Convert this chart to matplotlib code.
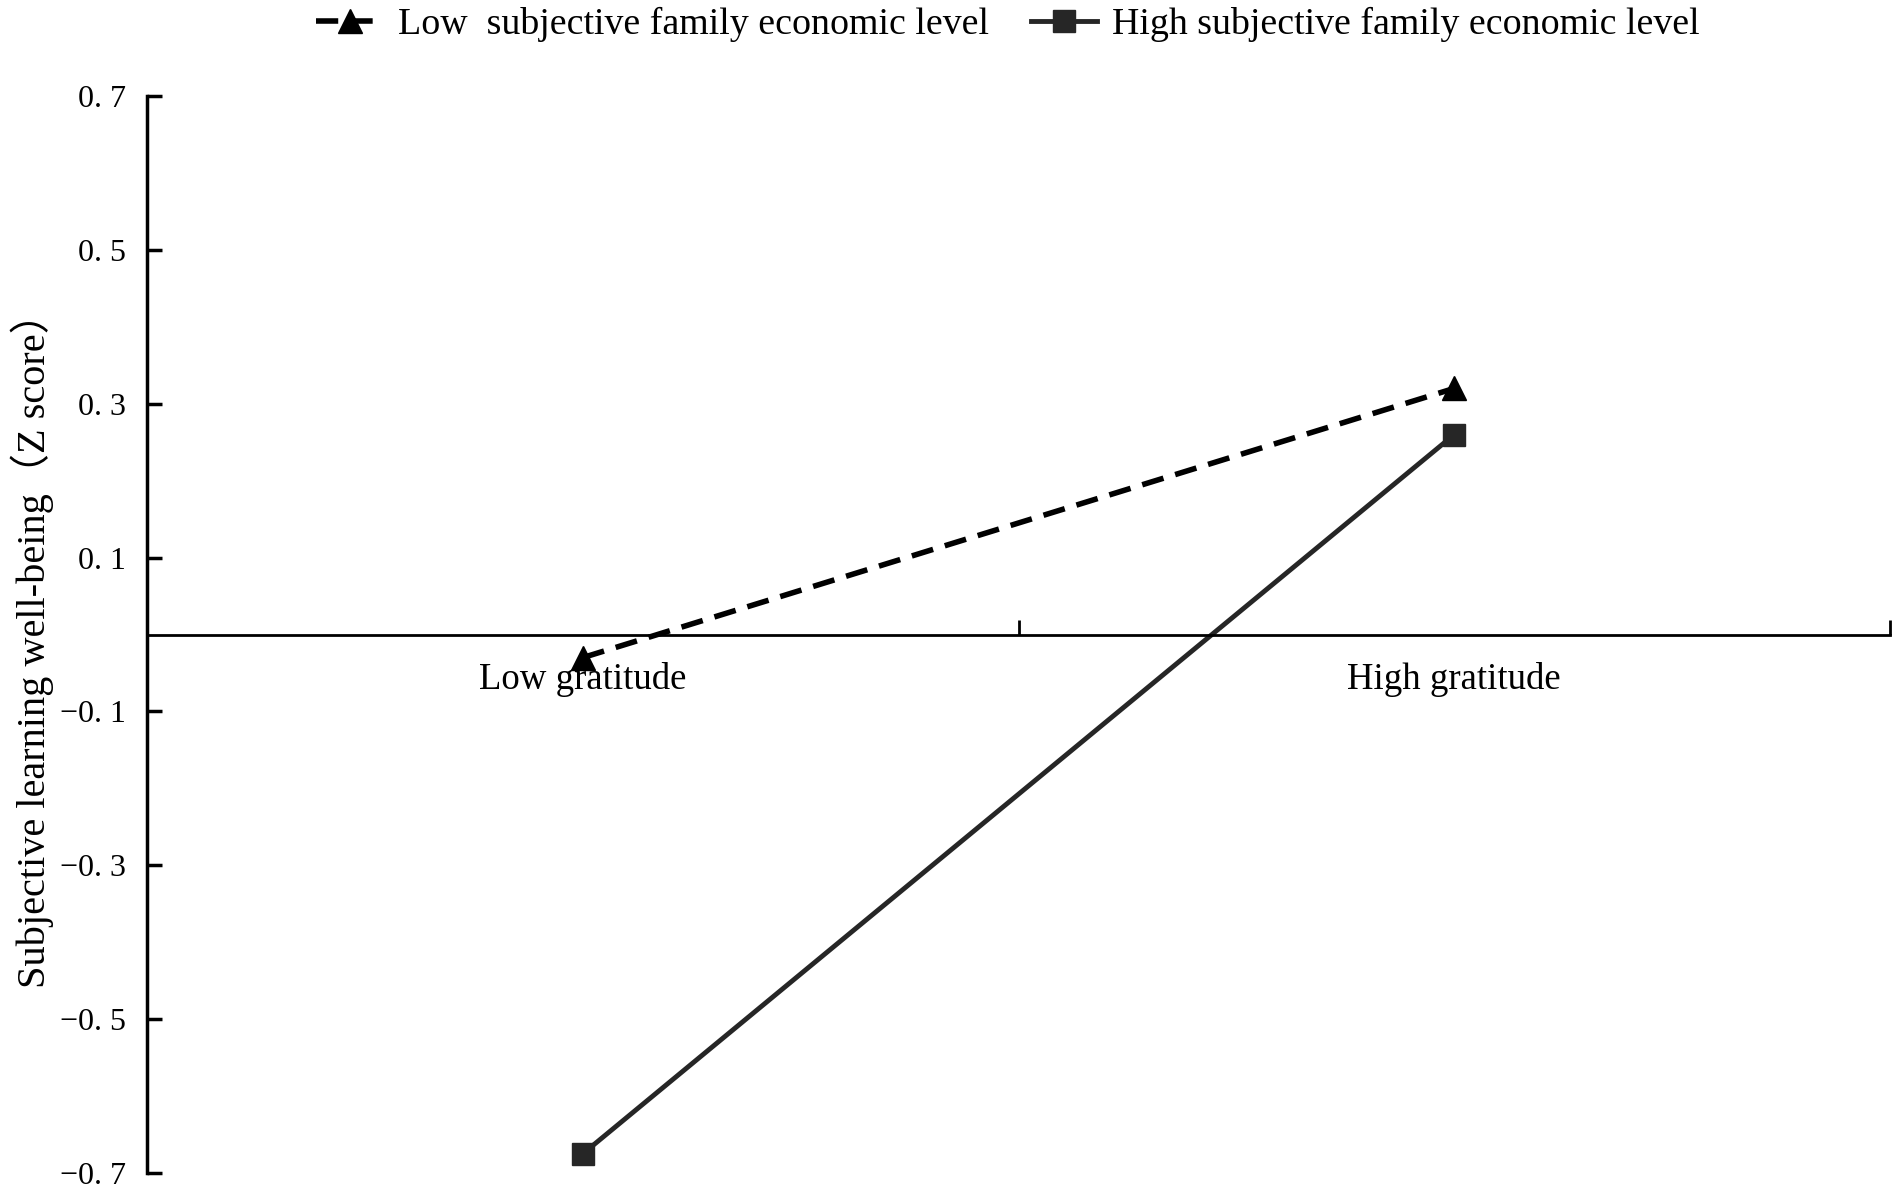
import matplotlib.pyplot as plt
from matplotlib.ticker import FixedLocator

# Data
categories = ['Low gratitude', 'High gratitude']
low_ses = [-0.03, 0.32]     # dashed, triangles
high_ses = [-0.675, 0.26]   # solid, squares
y_ticks = [-0.7, -0.5, -0.3, -0.1, 0.1, 0.3, 0.5, 0.7]
y_tick_labels = ['\u22120. 7', '\u22120. 5', '\u22120. 3', '\u22120. 1',
                 '0. 1', '0. 3', '0. 5', '0. 7']
legend_labels = ['Low  subjective family economic level',
                 'High subjective family economic level']

plt.rcParams['font.family'] = ['Liberation Serif', 'Noto Sans CJK SC']

fig = plt.figure(figsize=(19.02, 11.96), dpi=100)
ax = fig.add_axes([0.0773, 0.0192, 0.9164, 0.9005])

x_pos = [0.5, 1.5]
ax.plot(x_pos, low_ses, color='black', linestyle=(0, (4, 2.2)), linewidth=4,
        marker='^', markersize=17, label=legend_labels[0])
ax.plot(x_pos, high_ses, color='#262626', linestyle='-', linewidth=3.5,
        marker='s', markersize=16, label=legend_labels[1])

ax.set_xlim(0, 2)
ax.set_ylim(-0.7, 0.7)

for s in ['top', 'right']:
    ax.spines[s].set_visible(False)
ax.spines['bottom'].set_position(('data', 0))
ax.spines['bottom'].set_linewidth(2)
ax.spines['left'].set_linewidth(2.5)

ax.set_yticks(y_ticks)
ax.set_yticklabels(y_tick_labels, fontsize=23)
ax.tick_params(axis='y', direction='in', length=11, width=2.5, pad=15)

ax.xaxis.set_major_locator(FixedLocator([1, 2]))
ax.xaxis.set_minor_locator(FixedLocator(x_pos))
ax.set_xticklabels([], minor=False)
ax.set_xticklabels(categories, minor=True, fontsize=26.5)
ax.tick_params(axis='x', which='major', direction='in', length=11, width=2)
ax.tick_params(axis='x', which='minor', length=0, pad=20)

ax.set_ylabel('Subjective learning well-being\uff08Z score\uff09', fontsize=29,
              va='center')
ax.yaxis.set_label_coords(-0.066, 0.494)

fig.legend(loc='upper center', bbox_to_anchor=(0.53, 1.007), ncol=2,
           frameon=False, fontsize=27.3, handlelength=1.75, handletextpad=0.4,
           columnspacing=1.1, borderaxespad=0.0)

fig.savefig('out.png', dpi=100)
